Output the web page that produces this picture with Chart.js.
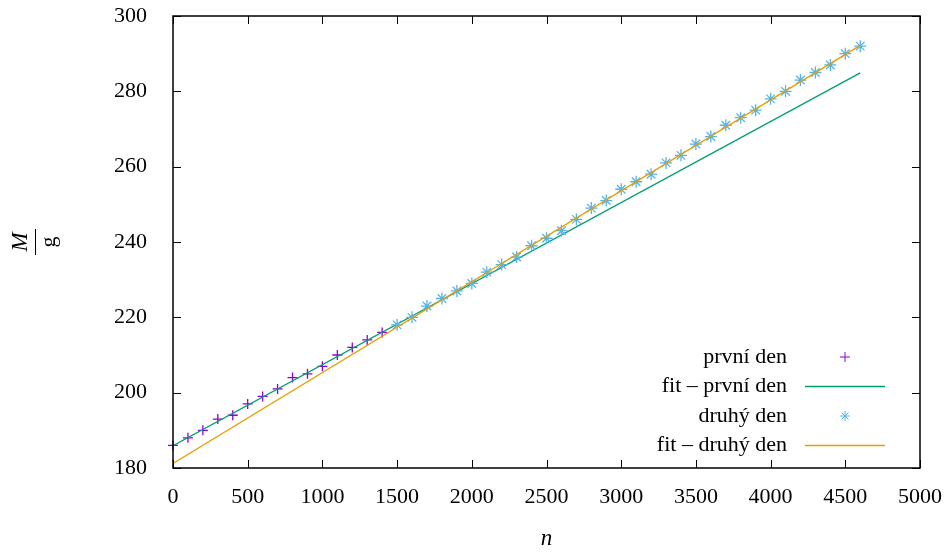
<!DOCTYPE html>
<html>
<head>
<meta charset="utf-8">
<script src="https://cdn.jsdelivr.net/npm/chart.js@4"></script>
<style>
  html, body { margin: 0; padding: 0; background: #fff; }
  #wrap { width: 951px; height: 552px; }
</style>
</head>
<body>
<div id="wrap"><canvas id="graf" width="951" height="552"></canvas></div>
<script>
// první den – n a hmotnost M v gramech
const nPrvni = [0, 100, 200, 300, 400, 500, 600, 700, 800, 900, 1000, 1100, 1200, 1300, 1400];
const mPrvni = [186, 188, 190, 193, 194, 197, 199, 201, 204, 205, 207, 210, 212, 214, 216];

// druhý den
const nDruhy = [1500, 1600, 1700, 1800, 1900, 2000, 2100, 2200, 2300, 2400, 2500, 2600, 2700, 2800, 2900, 3000,
                3100, 3200, 3300, 3400, 3500, 3600, 3700, 3800, 3900, 4000, 4100, 4200, 4300, 4400, 4500, 4600];
const mDruhy = [218, 220, 223, 225, 227, 229, 232, 234, 236, 239, 241, 243, 246, 249, 251, 254,
                256, 258, 261, 263, 266, 268, 271, 273, 275, 278, 280, 283, 285, 287, 290, 292];

// koncové body fitů
const fitN = [0, 4600];
const fitPrvni = [185.9, 284.9];
const fitDruhy = [181.2, 292.2];

const xTicks = [0, 500, 1000, 1500, 2000, 2500, 3000, 3500, 4000, 4500, 5000];
const yTicks = [180, 200, 220, 240, 260, 280, 300];

const pismo = 'Liberation Serif, Times New Roman, serif';

function body(xs, ys) {
  return xs.map((x, i) => ({ x: x, y: ys[i] }));
}

// rámeček, ticky dovnitř, popisky os a legenda uvnitř grafu (jako gnuplot)
const ramecek = {
  id: 'ramecek',
  afterDraw(chart) {
    const ctx = chart.ctx;
    const a = chart.chartArea;
    const sx = chart.scales.x, sy = chart.scales.y;
    ctx.save();
    ctx.strokeStyle = '#000';
    ctx.lineWidth = 1.5;
    ctx.strokeRect(a.left, a.top, a.right - a.left, a.bottom - a.top);

    ctx.lineWidth = 1;
    ctx.beginPath();
    xTicks.forEach(v => {
      const px = Math.round(sx.getPixelForValue(v)) + 0.5;
      ctx.moveTo(px, a.bottom); ctx.lineTo(px, a.bottom - 8);
      ctx.moveTo(px, a.top); ctx.lineTo(px, a.top + 8);
    });
    yTicks.forEach(v => {
      const py = Math.round(sy.getPixelForValue(v)) + 0.5;
      ctx.moveTo(a.left, py); ctx.lineTo(a.left + 8, py);
      ctx.moveTo(a.right, py); ctx.lineTo(a.right - 8, py);
    });
    ctx.stroke();

    // popisek osy x
    ctx.fillStyle = '#000';
    ctx.font = 'italic 23px ' + pismo;
    ctx.textAlign = 'center';
    ctx.textBaseline = 'middle';
    ctx.fillText('n', (a.left + a.right) / 2, 539);

    // popisek osy y: zlomek M / g, otočený
    ctx.save();
    ctx.translate(35, 242);
    ctx.rotate(-Math.PI / 2);
    ctx.textBaseline = 'alphabetic';
    ctx.font = 'italic 23px ' + pismo;
    ctx.fillText('M', 0, -8);
    ctx.font = '22px ' + pismo;
    ctx.fillText('g', 0, 20);
    ctx.lineWidth = 1;
    ctx.beginPath();
    ctx.moveTo(-13, 0.5); ctx.lineTo(13, 0.5);
    ctx.stroke();
    ctx.restore();

    // legenda
    const radky = [357, 386.5, 416, 445.5];
    ctx.font = '22px ' + pismo;
    ctx.textAlign = 'right';
    ctx.textBaseline = 'middle';
    chart.data.datasets.forEach((ds, i) => {
      const y = radky[i];
      ctx.fillStyle = '#000';
      ctx.fillText(ds.label, 787, y);
      ctx.strokeStyle = ds.borderColor;
      if (ds.showLine) {
        ctx.lineWidth = ds.borderWidth;
        ctx.beginPath();
        ctx.moveTo(805, y); ctx.lineTo(885, y);
        ctx.stroke();
      } else {
        ctx.lineWidth = 1;
        Chart.helpers.drawPoint(ctx, { pointStyle: ds.pointStyle, radius: 5, rotation: 0, borderWidth: 1 }, 845, y);
      }
    });
    ctx.restore();
  }
};

new Chart(document.getElementById('graf'), {
  type: 'scatter',
  data: {
    datasets: [
      {
        label: 'první den',
        data: body(nPrvni, mPrvni),
        showLine: false,
        pointStyle: 'cross',
        pointRadius: 5,
        borderColor: '#9400d3',
        backgroundColor: '#9400d3',
        pointBorderWidth: 1.3,
        clip: false,
        order: 4
      },
      {
        label: 'fit – první den',
        data: body(fitN, fitPrvni),
        showLine: true,
        pointRadius: 0,
        borderColor: '#009e73',
        borderWidth: 1.3,
        order: 3
      },
      {
        label: 'druhý den',
        data: body(nDruhy, mDruhy),
        showLine: false,
        pointStyle: 'star',
        pointRadius: 6,
        borderColor: '#56b4e9',
        backgroundColor: '#56b4e9',
        pointBorderWidth: 1.3,
        clip: false,
        order: 2
      },
      {
        label: 'fit – druhý den',
        data: body(fitN, fitDruhy),
        showLine: true,
        pointRadius: 0,
        borderColor: '#e69f00',
        borderWidth: 1.3,
        order: 1
      }
    ]
  },
  options: {
    responsive: false,
    animation: false,
    layout: { autoPadding: false, padding: { top: 16, right: 31, left: 0, bottom: 0 } },
    plugins: {
      legend: { display: false },
      tooltip: { enabled: false }
    },
    scales: {
      x: {
        type: 'linear',
        min: 0,
        max: 5000,
        grid: { display: false },
        border: { display: false },
        ticks: {
          stepSize: 500,
          color: '#000',
          padding: 8,
          font: { family: pismo, size: 22 },
          callback: v => String(v)
        },
        afterFit: s => { s.height = 84; s.paddingLeft = 0; s.paddingRight = 0; }
      },
      y: {
        min: 180,
        max: 300,
        grid: { display: false },
        border: { display: false },
        ticks: {
          stepSize: 20,
          color: '#000',
          padding: 18,
          font: { family: pismo, size: 22 },
          callback: v => String(v)
        },
        afterFit: s => { s.width = 173; s.paddingTop = 0; s.paddingBottom = 0; }
      }
    }
  },
  plugins: [ramecek]
});
</script>
</body>
</html>
